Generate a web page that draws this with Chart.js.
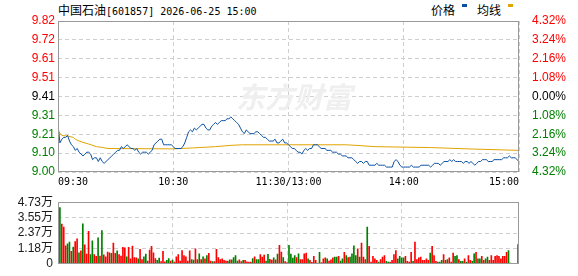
<!DOCTYPE html>
<html>
<head>
<meta charset="utf-8">
<script src="https://cdn.jsdelivr.net/npm/chart.js@4/dist/chart.umd.min.js"></script>
<style>
  body { margin: 0; background: #fff; }
  #wrap { position: relative; width: 578px; height: 276px; overflow: hidden; }
  .txt { position: absolute; top: 1px; line-height: 14px; white-space: pre; color: #000; }
  .cn { font: 12px "Noto Sans CJK SC"; }
  .mono { font: 10px "DejaVu Sans Mono"; }
  .sw { position: absolute; top: 4px; width: 5px; height: 3px; }
  .box { position: absolute; left: 0; width: 578px; }
</style>
</head>
<body>
<div id="wrap">
  <div class="txt" style="left:58px"><span class="cn">中国石油</span><span class="mono">[601857] 2026-06-25 15:00</span></div>
  <div class="txt cn" style="left:431px">价格</div>
  <div class="sw" style="left:462px;background:#0a4fa0"></div>
  <div class="txt cn" style="left:477px">均线</div>
  <div class="sw" style="left:508px;background:#e0a400"></div>
  <div class="box" style="top:0;height:190px"><canvas id="price"></canvas></div>
  <div class="box" style="top:190px;height:86px"><canvas id="vol"></canvas></div>
</div>
<script>
// ---- data ----
const preClose = 9.41
const timeTicks = [0, 60, 120, 180, 240]
const timeLabels = ['09:30', '10:30', '11:30/13:00', '14:00', '15:00']
const pctSteps = [-4.32, -3.24, -2.16, -1.08, 0, 1.08, 2.16, 3.24, 4.32]
const priceLabels = ['9.00', '9.10', '9.21', '9.31', '9.41', '9.51', '9.61', '9.72', '9.82']
const pctLabels = ['4.32%', '3.24%', '2.16%', '1.08%', '0.00%', '1.08%', '2.16%', '3.24%', '4.32%']

// one price per minute, 09:30 .. 11:30, 13:01 .. 15:00
const prices = [
  9.26, 9.16, 9.18, 9.19, 9.19, 9.20, 9.17, 9.15, 9.14, 9.12,
  9.13, 9.11, 9.10, 9.09, 9.10, 9.11, 9.11, 9.10, 9.07, 9.08,
  9.08, 9.06, 9.08, 9.06, 9.05, 9.06, 9.07, 9.08, 9.09, 9.10,
  9.11, 9.12, 9.12, 9.14, 9.13, 9.14, 9.15, 9.14, 9.13, 9.13,
  9.12, 9.13, 9.11, 9.10, 9.11, 9.11, 9.11, 9.10, 9.11, 9.12,
  9.15, 9.16, 9.17, 9.18, 9.18, 9.15, 9.15, 9.15, 9.15, 9.15,
  9.14, 9.13,
  9.13, 9.13, 9.13, 9.14, 9.16, 9.19, 9.22, 9.23, 9.22, 9.24,
  9.23, 9.24, 9.25, 9.26, 9.26, 9.24, 9.23, 9.23, 9.25, 9.26,
  9.27, 9.26, 9.27, 9.28, 9.28, 9.28, 9.29, 9.29, 9.30, 9.29,
  9.28, 9.27, 9.26, 9.24, 9.22, 9.21, 9.23, 9.22, 9.21, 9.21,
  9.21, 9.22, 9.22, 9.21, 9.20, 9.19, 9.19, 9.18, 9.17, 9.17,
  9.17, 9.18, 9.16, 9.16, 9.17, 9.18, 9.16, 9.16, 9.15,
  9.14, 9.13, 9.13, 9.12, 9.11, 9.11, 9.10, 9.12, 9.13,
  9.12, 9.13, 9.13, 9.15, 9.15, 9.15, 9.14, 9.13, 9.13, 9.13,
  9.12, 9.12, 9.12, 9.11, 9.11, 9.11, 9.10, 9.10, 9.09, 9.09,
  9.09, 9.08, 9.08, 9.08, 9.07, 9.06, 9.05, 9.06, 9.06, 9.05,
  9.06, 9.06, 9.04, 9.04, 9.04, 9.04, 9.05, 9.04, 9.04, 9.04,
  9.04, 9.03, 9.03, 9.03, 9.03, 9.06, 9.07, 9.06, 9.04, 9.03,
  9.03, 9.03,
  9.03, 9.03, 9.04, 9.03, 9.03, 9.03, 9.03, 9.04, 9.04, 9.04,
  9.04, 9.04, 9.03, 9.04, 9.05, 9.05, 9.05, 9.04, 9.05, 9.06,
  9.06, 9.06, 9.07, 9.06, 9.07, 9.06, 9.06, 9.06, 9.06, 9.05,
  9.06, 9.06, 9.05, 9.06, 9.05, 9.04, 9.05, 9.06, 9.06, 9.07,
  9.07, 9.07, 9.06, 9.06, 9.06, 9.07, 9.07, 9.07, 9.07, 9.07,
  9.08, 9.08, 9.08, 9.09, 9.08, 9.08, 9.08, 9.07, 9.06
]

// average price line, read at the minutes where it bends
const avgMinutes = [0, 2, 5, 8, 9, 11, 13, 16, 20, 23, 26, 60, 70, 82, 90, 96, 150, 158, 165, 194, 216, 240]
const avgValues = [9.225, 9.20, 9.197, 9.19, 9.18, 9.17, 9.163, 9.154, 9.14, 9.136, 9.13, 9.128, 9.133, 9.14, 9.147, 9.15, 9.15, 9.145, 9.14, 9.135, 9.127, 9.12]

// volume in 万 shares, morning and afternoon; up = 1 red, 0 green
const volAM = [
  4.32, 3.05, 2.81, 1.38, 1.53, 1.66, 0.96, 1.28, 1.70, 1.92,
  0.85, 1.00, 3.07, 1.45, 0.75, 2.50, 0.70, 1.77, 0.70, 0.57,
  1.99, 0.60, 2.56, 0.68, 0.53, 0.90, 0.85, 0.81, 1.60, 0.81,
  1.00, 0.70, 0.60, 1.26, 1.22, 0.53, 1.26, 0.38, 1.36, 0.47,
  0.45, 0.38, 1.11, 0.32, 0.53, 0.75, 0.21, 1.06, 1.34, 0.85,
  0.40, 0.26, 0.43, 0.17, 0.96, 0.15, 0.26, 0.40, 0.21, 0.28,
  0.13, 0.53, 0.70, 0.21, 1.02, 0.64, 0.53, 0.21, 1.00, 0.32,
  0.28, 1.15, 0.32, 0.77, 0.32, 0.53, 0.38, 0.64, 0.81, 0.21,
  0.17, 0.17, 1.11, 0.47, 0.32, 0.38, 0.26, 0.21, 0.21, 0.30,
  0.30, 0.47, 0.64, 0.21, 0.30, 0.17, 0.26, 0.26, 0.15, 0.13,
  0.13, 0.40, 0.53, 0.32, 0.32, 0.70, 0.51, 0.66, 0.21, 0.72,
  0.34, 0.28, 0.45, 0.30, 0.75, 1.42, 0.90, 0.47, 0.17, 0.10,
  1.42
]
const upAM = [
  0, 1, 1, 1, 0, 0, 1, 0, 1, 1,
  0, 1, 0, 1, 1, 1, 0, 0, 1, 1,
  0, 1, 0, 1, 1, 1, 1, 0, 1, 1,
  0, 1, 1, 1, 1, 0, 1, 1, 1, 1,
  1, 0, 1, 1, 0, 0, 1, 1, 1, 1,
  1, 0, 0, 1, 1, 1, 0, 0, 1, 0,
  1, 1, 1, 1, 1, 1, 1, 1, 1, 0,
  0, 1, 1, 0, 1, 0, 1, 0, 1, 1,
  0, 1, 1, 1, 1, 1, 1, 1, 0, 1,
  0, 0, 0, 0, 1, 1, 0, 1, 1, 1,
  1, 0, 1, 0, 0, 1, 1, 1, 0, 0,
  1, 1, 0, 1, 0, 1, 1, 0, 1, 1,
  0
]
const volPM = [
  0.75, 0.43, 0.64, 0.47, 0.77, 0.32, 0.32, 0.77, 0.83, 0.38,
  0.26, 0.11, 0.58, 0.26, 0.06, 0.89, 0.09, 0.38, 0.45, 0.38,
  0.21, 0.30, 0.45, 0.51, 0.51, 0.58, 0.21, 0.38, 0.89, 0.64,
  0.47, 0.51, 0.77, 1.38, 0.64, 1.15, 0.51, 1.60, 0.51, 0.32,
  2.81, 1.34, 0.13, 0.58, 0.38, 0.26, 0.13, 0.32, 0.51, 0.64,
  0.19, 0.13, 0.13, 0.26, 0.70, 1.02, 0.38, 0.58, 0.45, 0.45,
  0.58, 0.19, 0.13, 0.89, 0.19, 1.66, 0.32, 0.45, 0.51, 0.26,
  0.26, 0.38, 0.26, 0.83, 1.34, 0.64, 0.19, 0.13, 0.13, 0.26,
  0.70, 0.26, 0.32, 0.45, 0.13, 0.83, 0.58, 0.64, 0.32, 0.19,
  0.19, 0.38, 0.13, 0.64, 0.26, 0.19, 0.77, 0.89, 0.38, 0.38,
  0.58, 0.26, 0.38, 0.51, 0.26, 0.64, 0.26, 0.58, 0.64, 0.58,
  0.38, 0.58, 0.58, 0.89, 1.02, 0.06, 0.04, 0.03, 0.02, 1.47
]
const upPM = [
  0, 0, 0, 1, 0, 1, 1, 1, 1, 0,
  1, 1, 1, 1, 0, 0, 1, 1, 1, 0,
  1, 1, 1, 0, 0, 1, 0, 0, 1, 0,
  1, 0, 0, 0, 0, 1, 0, 1, 1, 1,
  0, 1, 1, 1, 1, 1, 0, 1, 1, 1,
  0, 0, 1, 1, 1, 1, 0, 0, 0, 0,
  1, 1, 1, 1, 0, 1, 1, 1, 1, 1,
  1, 1, 1, 0, 1, 1, 1, 0, 0, 0,
  1, 1, 0, 1, 1, 1, 0, 0, 1, 0,
  0, 1, 0, 1, 1, 0, 0, 1, 0, 0,
  1, 1, 0, 0, 1, 1, 1, 1, 1, 1,
  1, 1, 1, 1, 0, 0, 0, 1, 1, 0
]
const volTicks = [0, 1.1825, 2.365, 3.5475, 4.73]
const volLabels = ['0', '1.18万', '2.37万', '3.55万', '4.73万']

// ---- helpers ----
const RED = '#ff0000', GREEN = '#008000'
const numFont = { family: '"Liberation Sans", "Noto Sans CJK SC"', size: 12 }
const priceTicks = pctSteps.map(p => preClose * (1 + p / 100))
const tickColor = i => (i > 4 ? RED : i < 4 ? GREEN : '#000')

const volumes = volAM.concat(volPM)
const ups = upAM.concat(upPM)

// frame round the plot area, plus the faint watermark
const frame = {
  id: 'frame',
  beforeDatasetsDraw(chart, args, opts) {
    if (!opts.mark) return
    const ctx = chart.ctx
    ctx.save()
    ctx.fillStyle = '#efefef'
    ctx.font = 'italic bold 29px "Noto Sans CJK SC"'
    ctx.textBaseline = 'middle'
    ctx.fillText(opts.mark, 236, 97)
    ctx.restore()
  },
  afterDraw(chart) {
    const { ctx, chartArea: a } = chart
    ctx.save()
    ctx.strokeStyle = '#999'
    ctx.lineWidth = 1
    ctx.strokeRect(Math.round(a.left) + 0.5, Math.round(a.top) + 0.5,
      Math.round(a.right - a.left) - 1, Math.round(a.bottom - a.top) - 1)
    ctx.restore()
  }
}

const dashGrid = { color: '#cfcfcf', drawTicks: false, offset: false }
const noBorder = { display: false, dash: [4, 3] }

new Chart(document.getElementById('price'), {
  type: 'line',
  data: {
    datasets: [{
      label: '价格',
      data: prices.map((v, i) => ({ x: i, y: v })),
      borderColor: '#0a4fa0',
      borderWidth: 1,
      pointRadius: 0
    }, {
      label: '均线',
      data: avgMinutes.map((m, i) => ({ x: m, y: avgValues[i] })),
      borderColor: '#e0a400',
      borderWidth: 1,
      pointRadius: 0
    }]
  },
  options: {
    responsive: true,
    maintainAspectRatio: false,
    animation: false,
    events: [],
    layout: { padding: { top: 21, left: 0, right: 0, bottom: 0 } },
    plugins: { legend: { display: false }, tooltip: { enabled: false }, frame: { mark: '东方财富' } },
    scales: {
      x: {
        type: 'linear', min: 0, max: 240,
        afterBuildTicks: s => { s.ticks = timeTicks.map(v => ({ value: v })) },
        afterFit: s => { s.height = 18 },
        ticks: {
          autoSkip: false, maxRotation: 0, align: 'inner', padding: 4,
          color: '#000', font: { family: '"DejaVu Sans Mono"', size: 10 },
          callback: (v, i) => timeLabels[i]
        },
        grid: dashGrid, border: noBorder
      },
      y: {
        position: 'left', min: priceTicks[0], max: priceTicks[8],
        afterBuildTicks: s => { s.ticks = priceTicks.map(v => ({ value: v })) },
        afterFit: s => { s.width = 58 },
        ticks: {
          autoSkip: false, padding: 3, font: numFont,
          color: c => tickColor(c.index),
          callback: (v, i) => priceLabels[i]
        },
        grid: dashGrid, border: noBorder
      },
      y2: {
        position: 'right', min: priceTicks[0], max: priceTicks[8],
        afterBuildTicks: s => { s.ticks = priceTicks.map(v => ({ value: v })) },
        afterFit: s => { s.width = 59 },
        ticks: {
          autoSkip: false, padding: 5, font: numFont,
          color: c => tickColor(c.index),
          callback: (v, i) => pctLabels[i]
        },
        grid: { display: false }, border: { display: false }
      }
    }
  },
  plugins: [frame]
})

new Chart(document.getElementById('vol'), {
  type: 'bar',
  data: {
    datasets: [{
      label: '成交量',
      data: volumes.map((v, i) => ({ x: i, y: v })),
      backgroundColor: ups.map(u => (u ? RED : GREEN)),
      barThickness: 1,
      grouped: false
    }]
  },
  options: {
    responsive: true,
    maintainAspectRatio: false,
    animation: false,
    events: [],
    layout: { padding: { top: 6, left: 0, right: 59, bottom: 0 } },
    plugins: { legend: { display: false }, tooltip: { enabled: false }, frame: { mark: '' } },
    scales: {
      x: {
        type: 'linear', min: -1, max: 240.5, offset: false,
        afterBuildTicks: s => { s.ticks = [59, 119, 179].map(v => ({ value: v })) },
        afterFit: s => { s.height = 6 },
        ticks: { display: false },
        grid: dashGrid, border: noBorder
      },
      y: {
        position: 'left', min: 0, max: 4.73,
        afterBuildTicks: s => { s.ticks = volTicks.map(v => ({ value: v })) },
        afterFit: s => { s.width = 58 },
        ticks: {
          autoSkip: false, padding: 5, font: numFont, color: '#1a1a1a',
          callback: (v, i) => volLabels[i]
        },
        grid: dashGrid, border: noBorder
      }
    }
  },
  plugins: [frame]
})
</script>
</body>
</html>
